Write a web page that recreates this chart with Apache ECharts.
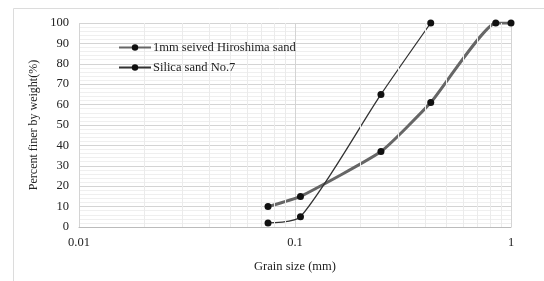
<!DOCTYPE html>
<html>
<head>
<meta charset="utf-8">
<script src="https://cdn.jsdelivr.net/npm/echarts@6/dist/echarts.min.js"></script>
<style>
  html, body { margin: 0; padding: 0; background: #fff; }
  #chart { width: 544px; height: 281px; }
</style>
</head>
<body>
<div id="chart"></div>
<script>
// grain size (mm) / percent finer (%)
const hiroshimaSize = [0.075, 0.106, 0.25, 0.425, 0.85, 1.0]
const hiroshimaPct = [10, 15, 37, 61, 100, 100]
const silicaSize = [0.075, 0.106, 0.25, 0.425]
const silicaPct = [2, 5, 65, 100]
const minorX = [0.02, 0.03, 0.04, 0.05, 0.06, 0.07, 0.08, 0.09, 0.2, 0.3, 0.4, 0.5, 0.6, 0.7, 0.8, 0.9]

const chart = echarts.init(document.getElementById('chart'))
const font = 'Liberation Serif, Times New Roman, serif'

chart.setOption({
  backgroundColor: '#fff',
  animation: false,
  textStyle: { fontFamily: font },
  graphic: [
    {
      type: 'rect',
      shape: { x: 13.5, y: 8.5, width: 540, height: 280 },
      style: { fill: 'none', stroke: '#dcdcdc', lineWidth: 1 },
      silent: true
    }
  ],
  legend: {
    left: 113,
    top: 36,
    z: 10,
    orient: 'vertical',
    itemGap: 7,
    itemWidth: 32,
    itemHeight: 8,
    textStyle: { fontFamily: font, fontSize: 12.5, color: '#222', padding: [0, 0, 0, -3] },
    data: ['1mm seived Hiroshima sand', 'Silica sand No.7']
  },
  grid: { left: 79, right: 33, top: 23, bottom: 54 },
  xAxis: {
    type: 'log',
    logBase: 10,
    min: 0.01,
    max: 1,
    name: 'Grain size (mm)',
    nameLocation: 'middle',
    nameGap: 33,
    nameTextStyle: { fontFamily: font, fontSize: 12.5, color: '#222' },
    axisLine: { lineStyle: { color: '#bbb' } },
    axisTick: { show: false },
    axisLabel: { fontFamily: font, fontSize: 12.5, color: '#222', margin: 9 },
    splitLine: { show: true, lineStyle: { color: '#d4d4d4' } }
  },
  yAxis: {
    type: 'value',
    min: 0,
    max: 100,
    interval: 10,
    name: 'Percent finer by weight(%)',
    nameLocation: 'middle',
    nameGap: 34,
    nameTextStyle: { fontFamily: font, fontSize: 12, color: '#222' },
    axisLine: { show: false },
    axisTick: { show: false },
    axisLabel: { fontFamily: font, fontSize: 12.5, color: '#222', margin: 10 },
    splitLine: { show: true, lineStyle: { color: '#d4d4d4' } },
    minorTick: { show: false, splitNumber: 5 },
    minorSplitLine: { show: true, lineStyle: { color: '#efefef' } }
  },
  series: [
    {
      name: '1mm seived Hiroshima sand',
      type: 'line',
      smooth: 0.15,
      symbol: 'circle',
      symbolSize: 7,
      itemStyle: { color: '#111' },
      lineStyle: { color: '#666', width: 3 },
      data: hiroshimaSize.map((x, i) => [x, hiroshimaPct[i]]),
      z: 3
    },
    {
      name: 'Silica sand No.7',
      type: 'line',
      smooth: 0.25,
      symbol: 'circle',
      symbolSize: 7,
      itemStyle: { color: '#111' },
      lineStyle: { color: '#333', width: 1.3 },
      data: silicaSize.map((x, i) => [x, silicaPct[i]]),
      z: 4
    },
    {
      // minor log gridlines
      type: 'line',
      data: [],
      silent: true,
      markLine: {
        silent: true,
        symbol: 'none',
        label: { show: false },
        lineStyle: { color: '#ebebeb', type: 'solid', width: 1 },
        data: minorX.map(v => ({ xAxis: v }))
      },
      z: 1
    }
  ]
})
window.addEventListener('resize', () => chart.resize())
</script>
</body>
</html>
